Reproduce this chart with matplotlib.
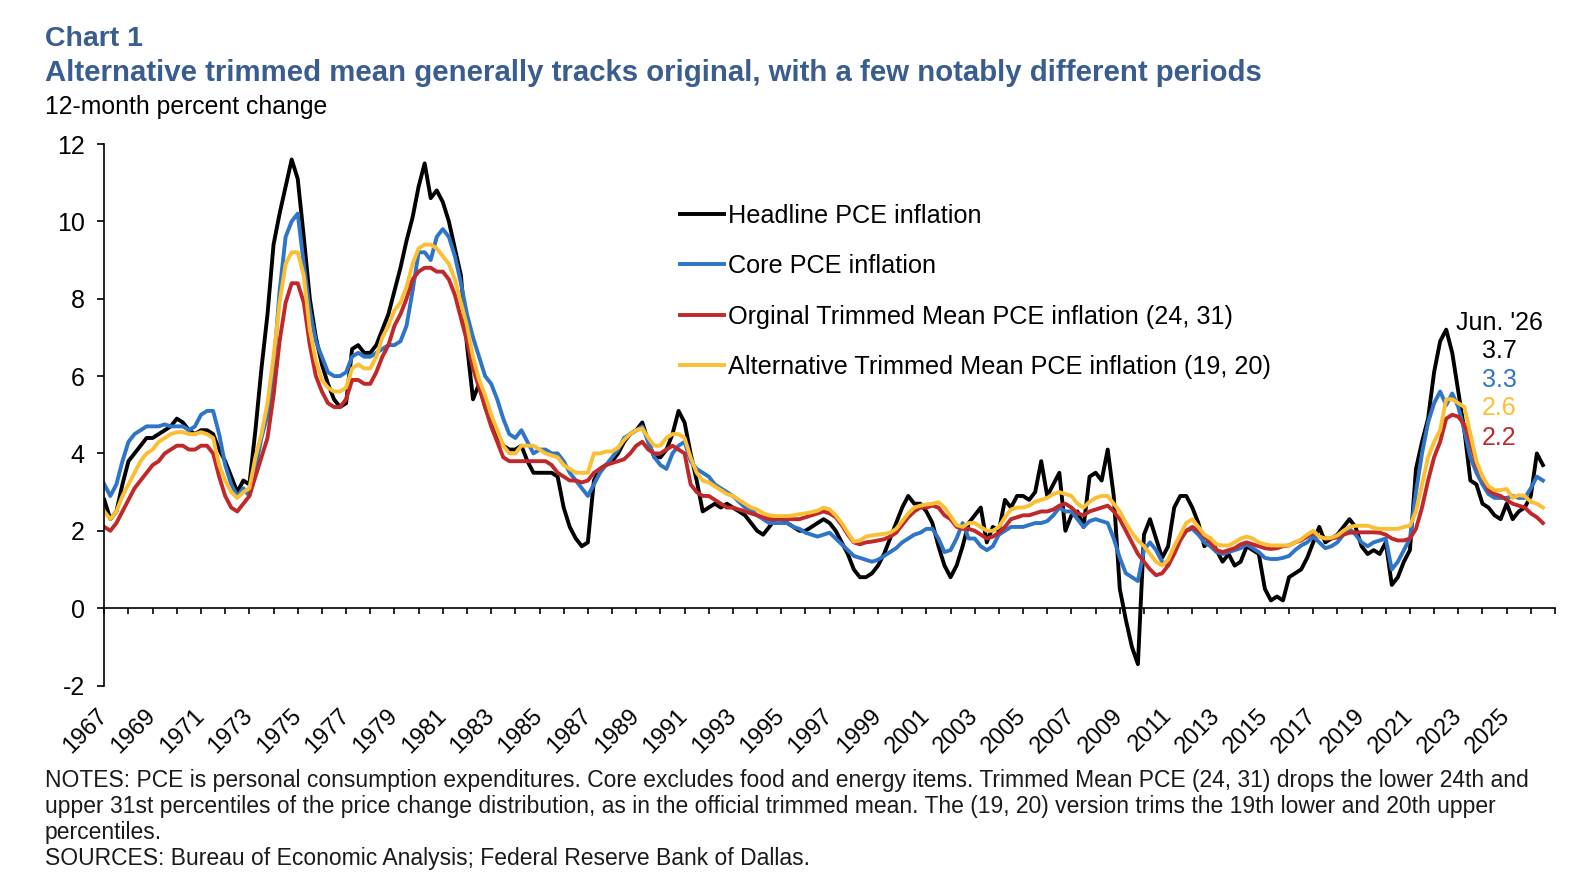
import numpy as np
import matplotlib
matplotlib.use("Agg")
import matplotlib.pyplot as plt

plt.rcParams["font.family"] = ["Liberation Sans", "DejaVu Sans"]
plt.rcParams["axes.unicode_minus"] = False

# quarterly readings, first point Jan 1967, last point Jun 2026
START_YEAR = 1967
STEP = 0.25

headline = [
    2.8, 2.3, 2.5, 3.2,     # 1967
    3.8, 4.0, 4.2, 4.4,     # 1968
    4.4, 4.5, 4.6, 4.7,     # 1969
    4.9, 4.8, 4.6, 4.5,     # 1970
    4.6, 4.6, 4.5, 4.1,     # 1971
    3.8, 3.4, 3.0, 3.3,     # 1972
    3.2, 4.6, 6.2, 7.6,     # 1973
    9.4, 10.2, 10.9, 11.6,  # 1974
    11.1, 9.6, 8.0, 7.0,    # 1975
    6.3, 5.8, 5.4, 5.2,     # 1976
    5.3, 6.7, 6.8, 6.6,     # 1977
    6.6, 6.8, 7.2, 7.6,     # 1978
    8.2, 8.8, 9.5, 10.1,    # 1979
    10.9, 11.5, 10.6, 10.8, # 1980
    10.5, 10.0, 9.3, 8.6,   # 1981
    6.8, 5.4, 5.8, 5.2,     # 1982
    4.8, 4.5, 4.2, 4.1,     # 1983
    4.1, 4.2, 3.8, 3.5,     # 1984
    3.5, 3.5, 3.5, 3.4,     # 1985
    2.6, 2.1, 1.8, 1.6,     # 1986
    1.7, 3.3, 3.6, 3.7,     # 1987
    3.8, 4.0, 4.3, 4.5,     # 1988
    4.6, 4.8, 4.3, 3.9,     # 1989
    3.9, 4.1, 4.5, 5.1,     # 1990
    4.8, 4.0, 3.3, 2.5,     # 1991
    2.6, 2.7, 2.6, 2.7,     # 1992
    2.6, 2.5, 2.4, 2.2,     # 1993
    2.0, 1.9, 2.1, 2.3,     # 1994
    2.3, 2.2, 2.1, 2.0,     # 1995
    2.0, 2.1, 2.2, 2.3,     # 1996
    2.2, 2.0, 1.7, 1.4,     # 1997
    1.0, 0.8, 0.8, 0.9,     # 1998
    1.1, 1.4, 1.8, 2.2,     # 1999
    2.6, 2.9, 2.7, 2.7,     # 2000
    2.5, 2.2, 1.6, 1.1,     # 2001
    0.8, 1.1, 1.6, 2.2,     # 2002
    2.4, 2.6, 1.7, 2.1,     # 2003
    2.0, 2.8, 2.6, 2.9,     # 2004
    2.9, 2.8, 3.0, 3.8,     # 2005
    2.9, 3.2, 3.5, 2.0,     # 2006
    2.4, 2.5, 2.1, 3.4,     # 2007
    3.5, 3.3, 4.1, 2.9,     # 2008
    0.5, -0.3, -1.0, -1.45, # 2009
    1.9, 2.3, 1.8, 1.3,     # 2010
    1.6, 2.6, 2.9, 2.9,     # 2011
    2.6, 2.2, 1.6, 1.8,     # 2012
    1.5, 1.2, 1.4, 1.1,     # 2013
    1.2, 1.6, 1.5, 1.4,     # 2014
    0.5, 0.2, 0.3, 0.2,     # 2015
    0.8, 0.9, 1.0, 1.3,     # 2016
    1.7, 2.1, 1.7, 1.8,     # 2017
    1.9, 2.1, 2.3, 2.1,     # 2018
    1.6, 1.4, 1.5, 1.4,     # 2019
    1.7, 0.6, 0.8, 1.2,     # 2020
    1.5, 3.6, 4.3, 4.9,     # 2021
    6.1, 6.9, 7.2, 6.6,     # 2022
    5.6, 4.6, 3.3, 3.2,     # 2023
    2.7, 2.6, 2.4, 2.3,     # 2024
    2.7, 2.3, 2.5, 2.6,     # 2025
    2.9, 4.0, 3.7,          # 2026
]

core = [
    3.2, 2.9, 3.2, 3.8,     # 1967
    4.3, 4.5, 4.6, 4.7,     # 1968
    4.7, 4.7, 4.75, 4.7,    # 1969
    4.7, 4.7, 4.6, 4.7,     # 1970
    5.0, 5.1, 5.1, 4.5,     # 1971
    3.7, 3.2, 2.9, 3.1,     # 1972
    2.9, 3.6, 4.4, 5.0,     # 1973
    6.2, 8.2, 9.6, 10.0,    # 1974
    10.2, 8.9, 7.7, 6.9,    # 1975
    6.5, 6.1, 6.0, 6.0,     # 1976
    6.1, 6.5, 6.6, 6.5,     # 1977
    6.5, 6.6, 6.7, 6.8,     # 1978
    6.8, 6.9, 7.3, 8.2,     # 1979
    9.2, 9.2, 9.0, 9.6,     # 1980
    9.8, 9.6, 9.1, 8.4,     # 1981
    7.6, 7.0, 6.5, 6.0,     # 1982
    5.8, 5.4, 4.9, 4.5,     # 1983
    4.4, 4.6, 4.3, 4.0,     # 1984
    4.1, 4.1, 4.0, 4.0,     # 1985
    3.8, 3.5, 3.3, 3.1,     # 1986
    2.9, 3.2, 3.5, 3.7,     # 1987
    3.9, 4.1, 4.4, 4.5,     # 1988
    4.6, 4.7, 4.3, 3.9,     # 1989
    3.7, 3.6, 4.0, 4.2,     # 1990
    4.3, 3.8, 3.6, 3.5,     # 1991
    3.4, 3.2, 3.1, 3.0,     # 1992
    2.9, 2.75, 2.6, 2.55,   # 1993
    2.4, 2.3, 2.2, 2.2,     # 1994
    2.2, 2.2, 2.1, 2.05,    # 1995
    1.95, 1.9, 1.85, 1.9,   # 1996
    1.95, 1.8, 1.65, 1.5,   # 1997
    1.35, 1.3, 1.25, 1.2,   # 1998
    1.25, 1.35, 1.45, 1.55, # 1999
    1.7, 1.8, 1.9, 1.95,    # 2000
    2.05, 2.05, 1.8, 1.45,  # 2001
    1.5, 1.8, 2.2, 1.8,     # 2002
    1.8, 1.6, 1.5, 1.6,     # 2003
    1.9, 2.0, 2.1, 2.1,     # 2004
    2.1, 2.15, 2.2, 2.2,    # 2005
    2.25, 2.4, 2.6, 2.5,    # 2006
    2.5, 2.3, 2.1, 2.25,    # 2007
    2.3, 2.25, 2.2, 1.8,    # 2008
    1.3, 0.9, 0.8, 0.7,     # 2009
    1.5, 1.7, 1.5, 1.2,     # 2010
    1.1, 1.5, 1.8, 2.0,     # 2011
    2.05, 1.9, 1.7, 1.6,    # 2012
    1.45, 1.4, 1.45, 1.5,   # 2013
    1.55, 1.65, 1.55, 1.45, # 2014
    1.3, 1.27, 1.27, 1.3,   # 2015
    1.35, 1.5, 1.62, 1.7,   # 2016
    1.85, 1.7, 1.55, 1.6,   # 2017
    1.7, 1.9, 2.05, 1.9,    # 2018
    1.7, 1.6, 1.7, 1.75,    # 2019
    1.8, 1.0, 1.2, 1.5,     # 2020
    1.8, 3.0, 4.0, 4.8,     # 2021
    5.3, 5.6, 5.25, 5.55,   # 2022
    5.2, 4.6, 3.9, 3.5,     # 2023
    3.2, 2.95, 2.85, 2.85,  # 2024
    2.85, 2.9, 2.85, 2.85,  # 2025
    3.1, 3.4, 3.3,          # 2026
]

trim_orig = [
    2.1, 2.0, 2.2, 2.5,     # 1967
    2.8, 3.1, 3.3, 3.5,     # 1968
    3.7, 3.8, 4.0, 4.1,     # 1969
    4.2, 4.2, 4.1, 4.1,     # 1970
    4.2, 4.2, 4.0, 3.4,     # 1971
    2.9, 2.6, 2.5, 2.7,     # 1972
    2.9, 3.4, 3.9, 4.4,     # 1973
    5.5, 6.9, 7.9, 8.4,     # 1974
    8.4, 7.9, 6.8, 6.0,     # 1975
    5.6, 5.3, 5.2, 5.2,     # 1976
    5.4, 5.9, 5.9, 5.8,     # 1977
    5.8, 6.1, 6.5, 6.8,     # 1978
    7.3, 7.6, 8.0, 8.5,     # 1979
    8.7, 8.8, 8.8, 8.7,     # 1980
    8.7, 8.5, 8.1, 7.5,     # 1981
    6.9, 6.2, 5.7, 5.2,     # 1982
    4.7, 4.3, 3.9, 3.8,     # 1983
    3.8, 3.8, 3.8, 3.8,     # 1984
    3.8, 3.8, 3.7, 3.5,     # 1985
    3.4, 3.3, 3.3, 3.25,    # 1986
    3.3, 3.5, 3.6, 3.7,     # 1987
    3.75, 3.8, 3.85, 4.0,   # 1988
    4.2, 4.3, 4.1, 4.0,     # 1989
    4.0, 4.1, 4.2, 4.1,     # 1990
    4.0, 3.2, 3.0, 2.9,     # 1991
    2.9, 2.8, 2.7, 2.6,     # 1992
    2.6, 2.55, 2.5, 2.45,   # 1993
    2.4, 2.35, 2.3, 2.3,    # 1994
    2.3, 2.3, 2.3, 2.3,     # 1995
    2.35, 2.4, 2.45, 2.5,   # 1996
    2.45, 2.35, 2.15, 1.9,  # 1997
    1.7, 1.65, 1.7, 1.72,   # 1998
    1.75, 1.78, 1.85, 1.95, # 1999
    2.15, 2.35, 2.5, 2.6,   # 2000
    2.6, 2.65, 2.6, 2.4,    # 2001
    2.3, 2.1, 2.05, 2.05,   # 2002
    2.0, 1.9, 1.8, 1.85,    # 2003
    1.95, 2.1, 2.3, 2.35,   # 2004
    2.4, 2.4, 2.45, 2.5,    # 2005
    2.5, 2.55, 2.65, 2.7,   # 2006
    2.6, 2.45, 2.4, 2.5,    # 2007
    2.55, 2.6, 2.65, 2.5,   # 2008
    2.3, 2.0, 1.7, 1.4,     # 2009
    1.2, 1.0, 0.85, 0.9,    # 2010
    1.1, 1.4, 1.75, 2.0,    # 2011
    2.1, 2.0, 1.85, 1.7,    # 2012
    1.5, 1.45, 1.5, 1.55,   # 2013
    1.65, 1.7, 1.65, 1.6,   # 2014
    1.55, 1.53, 1.55, 1.6,  # 2015
    1.62, 1.7, 1.75, 1.85,  # 2016
    1.95, 1.85, 1.8, 1.8,   # 2017
    1.83, 1.9, 1.95, 1.96,  # 2018
    1.96, 1.96, 1.96, 1.95, # 2019
    1.9, 1.8, 1.75, 1.75,   # 2020
    1.8, 2.05, 2.6, 3.3,    # 2021
    3.9, 4.3, 4.9, 5.0,     # 2022
    4.95, 4.75, 4.3, 3.7,   # 2023
    3.4, 3.05, 2.95, 2.9,   # 2024
    2.8, 2.7, 2.65, 2.6,    # 2025
    2.45, 2.35, 2.2,        # 2026
]

trim_alt = [
    2.5, 2.3, 2.5, 2.9,     # 1967
    3.2, 3.5, 3.8, 4.0,     # 1968
    4.1, 4.3, 4.4, 4.5,     # 1969
    4.55, 4.55, 4.5, 4.5,   # 1970
    4.55, 4.5, 4.4, 3.7,    # 1971
    3.3, 3.0, 2.85, 3.0,    # 1972
    3.1, 3.9, 4.5, 5.3,     # 1973
    6.5, 7.9, 8.9, 9.2,     # 1974
    9.2, 8.6, 7.2, 6.4,     # 1975
    5.9, 5.7, 5.6, 5.6,     # 1976
    5.7, 6.2, 6.3, 6.2,     # 1977
    6.2, 6.5, 7.0, 7.3,     # 1978
    7.7, 7.9, 8.3, 8.9,     # 1979
    9.3, 9.4, 9.4, 9.3,     # 1980
    9.1, 8.9, 8.5, 7.9,     # 1981
    7.3, 6.5, 5.9, 5.5,     # 1982
    5.0, 4.6, 4.2, 4.0,     # 1983
    4.0, 4.2, 4.2, 4.2,     # 1984
    4.1, 4.0, 3.95, 3.9,    # 1985
    3.7, 3.6, 3.5, 3.5,     # 1986
    3.5, 4.0, 4.0, 4.05,    # 1987
    4.05, 4.15, 4.35, 4.5,  # 1988
    4.6, 4.65, 4.4, 4.2,    # 1989
    4.2, 4.4, 4.5, 4.5,     # 1990
    4.4, 3.9, 3.5, 3.3,     # 1991
    3.25, 3.15, 3.05, 2.95, # 1992
    2.9, 2.8, 2.7, 2.6,     # 1993
    2.55, 2.45, 2.4, 2.38,  # 1994
    2.38, 2.38, 2.4, 2.43,  # 1995
    2.45, 2.48, 2.52, 2.6,  # 1996
    2.55, 2.4, 2.2, 1.95,   # 1997
    1.72, 1.75, 1.85, 1.88, # 1998
    1.9, 1.92, 1.95, 2.05,  # 1999
    2.25, 2.45, 2.6, 2.65,  # 2000
    2.68, 2.7, 2.74, 2.6,   # 2001
    2.38, 2.15, 2.1, 2.2,   # 2002
    2.2, 2.1, 2.0, 2.0,     # 2003
    2.1, 2.35, 2.55, 2.6,   # 2004
    2.6, 2.65, 2.75, 2.8,   # 2005
    2.85, 2.95, 3.0, 2.95,  # 2006
    2.9, 2.7, 2.6, 2.75,    # 2007
    2.85, 2.9, 2.9, 2.7,    # 2008
    2.5, 2.2, 1.95, 1.75,   # 2009
    1.6, 1.4, 1.2, 1.1,     # 2010
    1.25, 1.6, 1.9, 2.2,    # 2011
    2.3, 2.1, 1.9, 1.8,     # 2012
    1.65, 1.62, 1.62, 1.7,  # 2013
    1.8, 1.85, 1.8, 1.7,    # 2014
    1.65, 1.62, 1.62, 1.62, # 2015
    1.62, 1.7, 1.78, 1.9,   # 2016
    2.0, 1.85, 1.8, 1.82,   # 2017
    1.88, 2.0, 2.1, 2.13,   # 2018
    2.13, 2.13, 2.08, 2.05, # 2019
    2.05, 2.05, 2.05, 2.1,  # 2020
    2.13, 2.5, 3.2, 3.9,    # 2021
    4.3, 4.6, 5.4, 5.4,     # 2022
    5.3, 5.2, 4.5, 3.8,     # 2023
    3.4, 3.15, 3.05, 3.05,  # 2024
    3.08, 2.85, 2.92, 2.9,  # 2025
    2.75, 2.7, 2.6,         # 2026
]

LABELS = [
    "Headline PCE inflation",
    "Core PCE inflation",
    "Orginal Trimmed Mean PCE inflation (24, 31)",
    "Alternative Trimmed Mean PCE inflation (19, 20)",
]
COLORS = ["#000000", "#2e75c8", "#c0282a", "#fbbf33"]
TITLE_BLUE = "#3a5d8f"

NOTES = [
    "NOTES: PCE is personal consumption expenditures. Core excludes food and energy items. "
    "Trimmed Mean PCE (24, 31) drops the lower 24th and",
    "upper 31st percentiles of the price change distribution, as in the official trimmed mean. "
    "The (19, 20) version trims the 19th lower and 20th upper",
    "percentiles.",
    "SOURCES: Bureau of Economic Analysis; Federal Reserve Bank of Dallas.",
]

W, H = 1574, 886
fig = plt.figure(figsize=(W / 100, H / 100), dpi=100)
ax = fig.add_axes([104.3 / W, 1 - 685.5 / H, (1555 - 104.3) / W, (685.5 - 144) / H])

for series, label, color in zip([headline, core, trim_orig, trim_alt], LABELS, COLORS):
    dates = START_YEAR + STEP * np.arange(len(series))
    ax.plot(dates, series, color=color, lw=2.8, label=label, solid_joinstyle="round")

ax.set_xlim(1967, 2027)
ax.set_ylim(-2, 12)
for side in ("top", "right"):
    ax.spines[side].set_visible(False)
ax.spines["bottom"].set_position(("data", 0))
for side in ("left", "bottom"):
    ax.spines[side].set_linewidth(1.2)

ax.set_yticks(range(-2, 13, 2))
years = list(range(1967, 2028))
ax.set_xticks(years)
ax.set_xticklabels([str(y) if (y - 1967) % 2 == 0 and y < 2027 else "" for y in years])
ax.tick_params(axis="y", direction="out", length=5, width=1.2, labelsize=18, pad=9)
ax.tick_params(axis="x", direction="out", length=4, width=1.2, labelsize=17, pad=71)
plt.setp(ax.get_xticklabels(), rotation=45, ha="right", va="center", rotation_mode="anchor")

ax.legend(loc="upper left", bbox_to_anchor=(680 / W, 1 - 204 / H), bbox_transform=fig.transFigure,
          frameon=False, fontsize=18.2, handlelength=1.75, handletextpad=0.15,
          labelspacing=1.04, borderpad=0, borderaxespad=0)

# latest readings, stacked under the date
ax.text(2024.7, 7.37, "Jun. '26", ha="center", va="center", fontsize=18)
latest_y = [6.65, 5.9, 5.17, 4.4]
order = [0, 1, 3, 2]  # headline, core, alternative, original
for yv, idx in zip(latest_y, order):
    vals = [headline, core, trim_orig, trim_alt][idx]
    ax.text(2024.7, yv, f"{vals[-1]:.1f}", ha="center", va="center", fontsize=18, color=COLORS[idx])

fig.text(45 / W, 1 - 39 / H, "Chart 1", fontsize=20.5, weight="bold", color=TITLE_BLUE, va="center")
fig.text(45 / W, 1 - 73 / H,
         "Alternative trimmed mean generally tracks original, with a few notably different periods",
         fontsize=21.2, weight="bold", color=TITLE_BLUE, va="center")
fig.text(45 / W, 1 - 107 / H, "12-month percent change", fontsize=17.8, va="center")

for i, line in enumerate(NOTES):
    fig.text(45 / W, 1 - (781 + 25.7 * i) / H, line, fontsize=16.5, va="center", color="#1a1a1a")

fig.savefig("out.png", dpi=100)
